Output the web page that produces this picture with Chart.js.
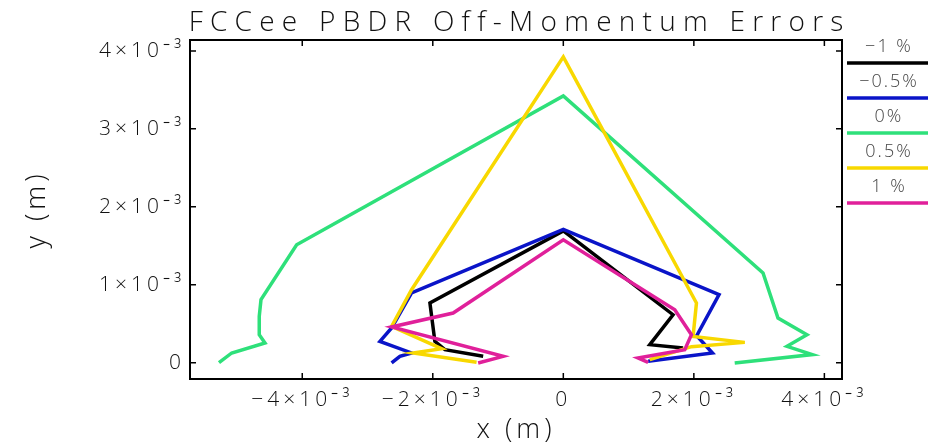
<!DOCTYPE html>
<html><head><meta charset="utf-8">
<script src="https://cdn.jsdelivr.net/npm/chart.js@4.4.1/dist/chart.umd.min.js"></script>
<style>html,body{margin:0;padding:0;background:#fff;}#wrap{width:933px;height:448px;position:relative;}</style>
</head><body><div id="wrap"><canvas id="c"></canvas></div>
<script>
const chartTitle = "FCCee PBDR Off-Momentum Errors";
const xAxisTitle = "x (m)";
const yAxisTitle = "y (m)";
const seriesLabels = ["−1 %", "−0.5%", "0%", "0.5%", "1 %"];
const seriesColors = ["#000000", "#0a14c8", "#2ee07a", "#f8d800", "#e0209a"];
const xTickValues = [-4e-3, -2e-3, 0, 2e-3, 4e-3];
const xTickLabels = ["−4×10⁻³", "−2×10⁻³", "0", "2×10⁻³", "4×10⁻³"];
const yTickValues = [0, 1e-3, 2e-3, 3e-3, 4e-3];
const yTickLabels = ["0", "1×10⁻³", "2×10⁻³", "3×10⁻³", "4×10⁻³"];

// -1 %
const xM10 = [1.835e-3, 1.325e-3, 1.681e-3, 0, -2.044e-3, -1.968e-3, -1.815e-3, -1.228e-3];
const yM10 = [0.188e-3, 0.231e-3, 0.615e-3, 1.690e-3, 0.765e-3, 0.273e-3, 0.167e-3, 0.081e-3];
// -0.5 %
const xM05 = [1.299e-3, 2.285e-3, 2.044e-3, 2.386e-3, 0, -2.325e-3, -2.631e-3, -2.810e-3, -2.325e-3, -2.504e-3, -2.631e-3];
const yM05 = [0.017e-3, 0.124e-3, 0.346e-3, 0.872e-3, 1.710e-3, 0.894e-3, 0.445e-3, 0.273e-3, 0.124e-3, 0.081e-3, -0.004e-3];
// 0 %
const xP00 = [2.626e-3, 3.816e-3, 3.427e-3, 3.733e-3, 3.289e-3, 3.060e-3, 0, -4.086e-3, -4.632e-3, -4.659e-3, -4.659e-3, -4.571e-3, -5.081e-3, -5.276e-3];
const yP00 = [-0.004e-3, 0.103e-3, 0.209e-3, 0.359e-3, 0.573e-3, 1.150e-3, 3.423e-3, 1.513e-3, 0.808e-3, 0.594e-3, 0.359e-3, 0.253e-3, 0.124e-3, 0.000e-3];
// 0.5 %
const xP05 = [1.325e-3, 1.963e-3, 2.780e-3, 1.988e-3, 2.040e-3, 0, -2.325e-3, -2.631e-3, -1.865e-3, -2.300e-3, -1.329e-3];
const yP05 = [0.038e-3, 0.205e-3, 0.260e-3, 0.337e-3, 0.765e-3, 3.923e-3, 0.936e-3, 0.465e-3, 0.179e-3, 0.124e-3, 0.004e-3];
// 1 %
const xP10 = [1.299e-3, 1.145e-3, 1.861e-3, 1.963e-3, 1.708e-3, 0, -1.688e-3, -2.631e-3, -0.922e-3, -1.305e-3];
const yP10 = [0.004e-3, 0.060e-3, 0.167e-3, 0.359e-3, 0.679e-3, 1.577e-3, 0.637e-3, 0.458e-3, 0.081e-3, -0.004e-3];

const seriesX = [xM10, xM05, xP00, xP05, xP10];
const seriesY = [yM10, yM05, yP00, yP05, yP10];

const FONT = "'Open Sans', 'DejaVu Sans', sans-serif";
const TEXT = "#111111";

const datasets = seriesLabels.map((lab, i) => ({
  label: lab,
  data: seriesX[i].map((x, k) => ({ x: x, y: seriesY[i][k] })),
  borderColor: seriesColors[i],
  backgroundColor: seriesColors[i],
  borderWidth: 3.5,
  pointRadius: 0,
  showLine: true,
  tension: 0,
  fill: false,
  borderJoinStyle: 'miter',
  order: seriesLabels.length - i
}));

const framePlugin = {
  id: 'frame',
  beforeLayout(chart) { chart.ctx.letterSpacing = '4px'; },
  beforeDraw(chart) { chart.ctx.letterSpacing = '4px'; },
  beforeDatasetsDraw(chart) { chart.ctx.letterSpacing = '0px'; },
  afterDraw(chart) {
    const ctx = chart.ctx, a = chart.chartArea;
    const xs = chart.scales.x, ys = chart.scales.y;
    ctx.save();
    ctx.letterSpacing = '0px';
    ctx.strokeStyle = '#000';
    ctx.lineWidth = 2;
    ctx.strokeRect(a.left, a.top, a.right - a.left, a.bottom - a.top);
    ctx.lineWidth = 1.5;
    ctx.beginPath();
    xTickValues.forEach(v => {
      const p = xs.getPixelForValue(v);
      ctx.moveTo(p, a.bottom); ctx.lineTo(p, a.bottom - 6);
      ctx.moveTo(p, a.top); ctx.lineTo(p, a.top + 6);
    });
    yTickValues.forEach(v => {
      const p = ys.getPixelForValue(v);
      ctx.moveTo(a.left, p); ctx.lineTo(a.left + 6, p);
      ctx.moveTo(a.right, p); ctx.lineTo(a.right - 6, p);
    });
    ctx.stroke();

    // title
    ctx.font = "300 28px " + FONT;
    ctx.fillStyle = TEXT;
    ctx.textAlign = 'center';
    ctx.textBaseline = 'alphabetic';
    const w0 = ctx.measureText(chartTitle).width;
    const sp = Math.max(0, (662 - w0) / chartTitle.length);
    ctx.letterSpacing = sp.toFixed(2) + 'px';
    ctx.fillText(chartTitle, (a.left + a.right) / 2 + sp / 2, 31);
    ctx.letterSpacing = '0px';

    // legend
    ctx.font = "300 18px " + FONT;
    ctx.fillStyle = '#444';
    ctx.textBaseline = 'middle';
    ctx.letterSpacing = '2px';
    chart.data.datasets.forEach((ds, i) => {
      const ty = 47 + 35 * i;
      ctx.fillText(ds.label, 889, ty);
      ctx.save();
      ctx.strokeStyle = ds.borderColor;
      ctx.lineWidth = 3.5;
      ctx.beginPath();
      ctx.moveTo(847, ty + 16);
      ctx.lineTo(928, ty + 16);
      ctx.stroke();
      ctx.restore();
    });
    ctx.restore();
  }
};

new Chart(document.getElementById('c'), {
  type: 'scatter',
  data: { datasets: datasets },
  options: {
    responsive: true,
    maintainAspectRatio: false,
    animation: false,
    layout: { padding: { top: 40, right: 91, left: 0, bottom: 0 } },
    plugins: { legend: { display: false }, title: { display: false }, tooltip: { enabled: false } },
    scales: {
      x: {
        type: 'linear',
        min: -5.72e-3, max: 4.27e-3,
        afterBuildTicks(s) { s.ticks = xTickValues.map(v => ({ value: v })); },
        afterFit(s) { s.height = 69; },
        grid: { display: false, drawTicks: false },
        border: { display: false },
        ticks: {
          padding: 8,
          color: TEXT,
          font: { family: FONT, size: 21, weight: 300 },
          maxRotation: 0,
          callback: (v) => xTickLabels[xTickValues.indexOf(v)]
        },
        title: { display: true, text: xAxisTitle, color: TEXT, font: { family: FONT, size: 27, weight: 300 }, padding: { top: 0, bottom: 1 } }
      },
      y: {
        type: 'linear',
        min: -0.21e-3, max: 4.14e-3,
        afterBuildTicks(s) { s.ticks = yTickValues.map(v => ({ value: v })); },
        afterFit(s) { s.width = 190; },
        grid: { display: false, drawTicks: false },
        border: { display: false },
        ticks: {
          padding: 5,
          color: TEXT,
          font: { family: FONT, size: 21, weight: 300 },
          callback: (v) => yTickLabels[yTickValues.indexOf(v)]
        },
        title: { display: true, text: yAxisTitle, color: TEXT, font: { family: FONT, size: 27, weight: 300 }, padding: { top: 21, bottom: 0 } }
      }
    }
  },
  plugins: [framePlugin]
});
</script>
</body></html>
